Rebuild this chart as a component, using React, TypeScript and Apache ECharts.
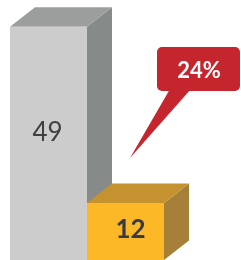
import React, { useEffect, useRef } from "react";
import * as echarts from "echarts";

const categories = ["Total", "Subset"];
const values = [49, 12];
const shareLabel = "24%";

const frontColors = ["#cccccc", "#fdb827"];
const topColors = ["#9c9e9d", "#c4922f"];
const sideColors = ["#868b8a", "#a68039"];
const labelColors = ["#404040", "#383a42"];
const labelWeights = ["normal", "bold"];
const labelShiftX = [-1, 5];

export default function App() {
  const ref = useRef<HTMLDivElement>(null);
  useEffect(() => {
    if (!ref.current) return;
    const chart = echarts.init(ref.current, undefined, { renderer: "svg" });
    const dx = 25;
    const dy = 19.5;
    chart.setOption({
      animation: false,
      grid: { left: 10, right: 77, top: 22, bottom: 0 },
      xAxis: { type: "category", data: categories, show: false },
      yAxis: { type: "value", min: 0, max: 50, show: false },
      series: [
        {
          type: "custom",
          data: values.map((v, i) => [i, v]),
          encode: { x: 0, y: 1 },
          renderItem: (params: any, api: any) => {
            const idx = api.value(0);
            const val = api.value(1);
            const top = api.coord([idx, val]);
            const base = api.coord([idx, 0]);
            const w = api.size([1, 0])[0];
            const x0 = top[0] - w / 2;
            const x1 = top[0] + w / 2;
            const y0 = top[1];
            const yb = base[1];
            return {
              type: "group",
              children: [
                {
                  type: "polygon",
                  shape: { points: [[x1, y0], [x1 + dx, y0 - dy], [x1 + dx, yb - dy], [x1, yb]] },
                  style: { fill: sideColors[idx] },
                },
                {
                  type: "polygon",
                  shape: { points: [[x0, y0], [x0 + dx, y0 - dy], [x1 + dx, y0 - dy], [x1, y0]] },
                  style: { fill: topColors[idx] },
                },
                {
                  type: "rect",
                  shape: { x: x0, y: y0, width: w, height: yb - y0 },
                  style: { fill: frontColors[idx] },
                },
                {
                  type: "text",
                  x: top[0] + labelShiftX[idx],
                  y: y0 + (yb - y0) * 0.445,
                  style: {
                    text: String(val),
                    fill: labelColors[idx],
                    font: `${labelWeights[idx]} 26px Lato`,
                    align: "center",
                    verticalAlign: "middle",
                  },
                },
              ],
            };
          },
        },
      ],
      graphic: [
        {
          type: "polygon",
          shape: { points: [[170, 89], [191, 89], [130, 158]] },
          style: { fill: "#c5262e" },
        },
        {
          type: "rect",
          shape: { x: 157, y: 47, width: 83, height: 44, r: 5 },
          style: { fill: "#c5262e" },
        },
        {
          type: "text",
          x: 199,
          y: 69,
          style: {
            text: shareLabel,
            fill: "#ffffff",
            font: "bold 22px Lato",
            align: "center",
            verticalAlign: "middle",
          },
        },
      ],
    });
    return () => chart.dispose();
  }, []);
  return (
    <div
      ref={ref}
      style={{ position: "fixed", left: 0, top: 0, width: 241, height: 260 }}
    />
  );
}
